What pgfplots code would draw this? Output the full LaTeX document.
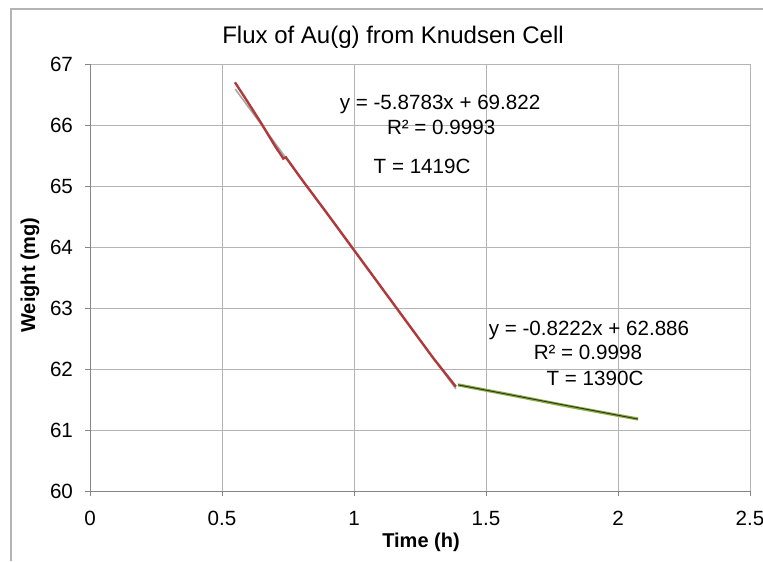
\documentclass[border=0pt]{standalone}
\usepackage{pgfplots}
\pgfplotsset{compat=1.18}
\usepackage{fontspec}
\setmainfont{Liberation Sans}
\definecolor{gridc}{HTML}{B4B4B4}
\definecolor{axc}{HTML}{868686}
\definecolor{redd}{HTML}{B03A3A}
\definecolor{greend}{HTML}{8DB43C}
\begin{document}
\begin{tikzpicture}[x=0.5pt,y=0.5pt]
\useasboundingbox (0,0) rectangle (763,561);
\draw[color=gridc, line width=0.6pt] (11,0) -- (11,552) -- (763,552);
\begin{axis}[
  at={(45pt,35pt)}, anchor=south west,
  scale only axis, width=330pt, height=213.5pt,
  xmin=0, xmax=2.5, ymin=60, ymax=67,
  xtick={0,0.5,...,2.5}, ytick={60,61,...,67},
  xticklabels={0,0.5,1,1.5,2,2.5},
  grid=major, major grid style={color=gridc, line width=0.5pt},
  axis line style={color=axc, line width=0.5pt},
  tick style={color=axc, line width=0.5pt},
  tick align=outside, major tick length=2.5pt,
  xtick pos=bottom, ytick pos=left,
  axis x line*=bottom, axis y line*=left,
  /pgf/number format/assume math mode=true,
  ticklabel style={font=\fontsize{10.3}{12}\selectfont},
  xticklabel style={yshift=-4pt},
  yticklabel style={xshift=-2.5pt},
  clip=false,
]
\addplot[color=gray!70, line width=0.8pt] coordinates {(0.55,66.589) (1.386,61.675)};
\addplot[color=redd, line width=1.2pt] coordinates {
(0.549,66.70) (0.60,66.36) (0.65,66.02) (0.70,65.66) (0.725,65.50) (0.732,65.45) (0.742,65.47) (0.80,65.12) (0.90,64.54) (1.00,63.95) (1.10,63.36) (1.20,62.77) (1.30,62.18) (1.386,61.71)};
\addplot[color=greend, line width=1.6pt] coordinates {(1.394,61.74) (1.60,61.57) (1.80,61.40) (2.00,61.24) (2.076,61.18)};
\addplot[color=black!80, line width=0.5pt] coordinates {(1.394,61.740) (2.076,61.179)};
\node[font=\fontsize{10.3}{12}\selectfont] at (axis cs:1.326,66.344) {y = -5.8783x + 69.822};
\node[font=\fontsize{10.3}{12}\selectfont] at (axis cs:1.33,65.967) {R² = 0.9993};
\node[font=\fontsize{10.3}{12}\selectfont] at (axis cs:1.258,65.328) {T = 1419C};
\node[font=\fontsize{10.3}{12}\selectfont] at (axis cs:1.890,62.639) {y = -0.8222x + 62.886};
\node[font=\fontsize{10.3}{12}\selectfont] at (axis cs:1.886,62.279) {R² = 0.9998};
\node[font=\fontsize{10.3}{12}\selectfont] at (axis cs:1.913,61.852) {T = 1390C};
\end{axis}
\node[font=\fontsize{12}{14}\selectfont] at (393,524) {Flux of Au(g) from Knudsen Cell};
\node[font=\fontsize{10}{12}\selectfont\bfseries, rotate=90] at (30,286) {Weight (mg)};
\node[font=\fontsize{10}{12}\selectfont\bfseries] at (421,19) {Time (h)};
\end{tikzpicture}
\end{document}
